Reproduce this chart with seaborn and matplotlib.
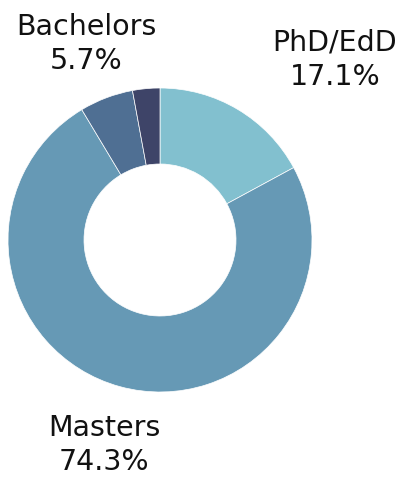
import seaborn as sns
import matplotlib.pyplot as plt

# degree share, clockwise from the top
degrees = ["PhD/EdD", "Masters", "Bachelors", "Other"]
shares = [17.1, 74.3, 5.7, 2.9]
colors = ["#82c0cf", "#6699b5", "#4f6f93", "#3e4468"]

sns.set_theme(style="white")
plt.rcParams['font.family'] = ['DejaVu Sans']

W, H = 402, 478
fig = plt.figure(figsize=(W / 100, H / 100), dpi=100)

# pie centre ~(160, 240) px, radius ~152 px
cx, cy, r = 160, 240, 152
ax = fig.add_axes([(cx - r) / W, (H - cy - r) / H, 2 * r / W, 2 * r / H])
ax.pie(shares, colors=colors, startangle=90, counterclock=False,
       wedgeprops=dict(width=0.5, linewidth=0.5, edgecolor="white"),
       radius=1.0)
ax.set_aspect("equal")
ax.set_xlim(-1, 1)
ax.set_ylim(-1, 1)
ax.axis("off")

# outside labels (pixel positions of their centres)
label_pos = {"Bachelors": (86, 44), "PhD/EdD": (335, 60), "Masters": (104, 445)}
for name, val in zip(degrees, shares):
    if name not in label_pos:
        continue
    x, y = label_pos[name]
    fig.text(x / W, 1 - y / H, f"{name}\n{val}%", ha="center", va="center",
             fontsize=20.5, color="#111111", linespacing=1.3,
             fontweight="medium")

fig.savefig("out.png", dpi=100)
